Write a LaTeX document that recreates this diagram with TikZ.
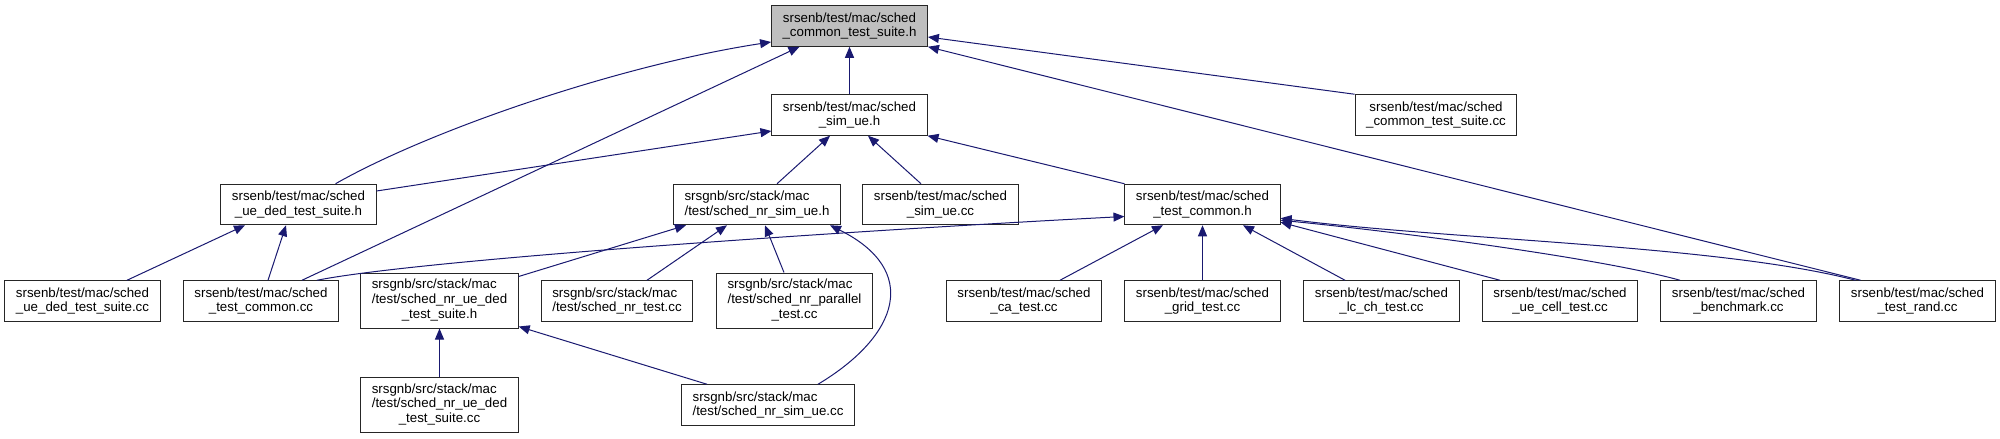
\documentclass[tikz,border=0pt]{standalone}
\usepackage{fontspec}
\setmainfont{Liberation Sans}
\usetikzlibrary{arrows.meta}
\definecolor{mblue}{HTML}{191970}
\newcommand{\threeline}[3]{\begin{tabular}{@{}l@{}}#1\\#2\\\multicolumn{1}{@{}c@{}}{#3}\end{tabular}}

\begin{document}
\begin{tikzpicture}[x=1pt, y=-1pt,
  box/.style={draw=black!85, line width=1pt, fill=white,
    font=\fontsize{13.3}{14.7}\selectfont, inner xsep=11pt,
    minimum height=40.5pt, align=center},
  tall/.style={box, minimum height=55pt},
  edge/.style={draw=mblue, line width=1pt, -{Triangle[length=11pt,width=9pt]}}]
  \useasboundingbox (0,0) rectangle (2000,439);

  % Top two rows
  \node[box, fill=black!25] (root) at (849.5,26) {srsenb/test/mac/sched\\\_common\_test\_suite.h};
  \node[box] (simh)    at (849.5,115) {srsenb/test/mac/sched\\\_sim\_ue.h};
  \node[box] (suitecc) at (1436,115)  {srsenb/test/mac/sched\\\_common\_test\_suite.cc};

  % Third row
  \node[box] (uedh)    at (298.5,204.5)  {srsenb/test/mac/sched\\\_ue\_ded\_test\_suite.h};
  \node[box, align=left] (nrsimh) at (757,204.5) {srsgnb/src/stack/mac\\/test/sched\_nr\_sim\_ue.h};
  \node[box] (simcc)   at (940.5,204.5)  {srsenb/test/mac/sched\\\_sim\_ue.cc};
  \node[box] (commonh) at (1202.5,204.5) {srsenb/test/mac/sched\\\_test\_common.h};

  % Fourth row
  \node[box] (uedcc)    at (82.5,301) {srsenb/test/mac/sched\\\_ue\_ded\_test\_suite.cc};
  \node[box] (commoncc) at (261,301)  {srsenb/test/mac/sched\\\_test\_common.cc};
  \node[tall] (nruedh)  at (439.5,300.5) {\threeline{srsgnb/src/stack/mac}{/test/sched\_nr\_ue\_ded}{\_test\_suite.h}};
  \node[box, align=left] (nrtestcc) at (617,301) {srsgnb/src/stack/mac\\/test/sched\_nr\_test.cc};
  \node[tall] (nrparcc) at (794.5,300.5) {\threeline{srsgnb/src/stack/mac}{/test/sched\_nr\_parallel}{\_test.cc}};
  \node[box] (cacc)     at (1024,301)   {srsenb/test/mac/sched\\\_ca\_test.cc};
  \node[box] (gridcc)   at (1202.5,301) {srsenb/test/mac/sched\\\_grid\_test.cc};
  \node[box] (lcchcc)   at (1381.5,301) {srsenb/test/mac/sched\\\_lc\_ch\_test.cc};
  \node[box] (uecellcc) at (1560,301)   {srsenb/test/mac/sched\\\_ue\_cell\_test.cc};
  \node[box] (benchcc)  at (1738.5,301) {srsenb/test/mac/sched\\\_benchmark.cc};
  \node[box] (randcc)   at (1917.5,301) {srsenb/test/mac/sched\\\_test\_rand.cc};

  % Bottom row
  \node[tall] (nruedcc) at (439.5,405) {\threeline{srsgnb/src/stack/mac}{/test/sched\_nr\_ue\_ded}{\_test\_suite.cc}};
  \node[box, align=left] (nrsimcc) at (768,405) {srsgnb/src/stack/mac\\/test/sched\_nr\_sim\_ue.cc};

  % Edges to the root header
  \draw[edge] (simh.north) -- (root.south);
  \draw[edge] (suitecc.north west) -- ([yshift=-11pt]root.east);
  \draw[edge] ([xshift=-57pt]randcc.north) -- (root.south east);
  \draw[edge] ([xshift=37pt]uedh.north) .. controls (430,130) and (620,65) .. ([yshift=-16pt]root.west);
  \draw[edge] ([xshift=41pt]commoncc.north) -- ([xshift=-50pt]root.south);

  % Edges to sched_sim_ue.h
  \draw[edge] ([yshift=13.5pt]uedh.east) -- ([yshift=-16pt]simh.west);
  \draw[edge] ([xshift=20pt]nrsimh.north) -- ([xshift=-19.5pt]simh.south);
  \draw[edge] ([xshift=-19.5pt]simcc.north) -- ([xshift=18.5pt]simh.south);
  \draw[edge] (commonh.north west) -- (simh.south east);

  % Edges to sched_ue_ded_test_suite.h
  \draw[edge] ([xshift=44.5pt]uedcc.north) -- ([xshift=-53.5pt]uedh.south);
  \draw[edge] ([xshift=7pt]commoncc.north) -- ([xshift=-12.5pt]uedh.south);

  % Edges to sched_nr_sim_ue.h
  \draw[edge] ([yshift=-4pt]nruedh.north east) -- ([xshift=-71pt]nrsimh.south);
  \draw[edge] ([xshift=30pt]nrtestcc.north) -- ([xshift=-30pt]nrsimh.south);
  \draw[edge] ([xshift=-10.5pt]nrparcc.north) -- ([xshift=8pt]nrsimh.south);
  \draw[edge] ([xshift=50pt]nrsimcc.north) .. controls (900,335) and (920,270) .. ([xshift=73pt]nrsimh.south);

  % Edges to sched_nr_ue_ded_test_suite.h
  \draw[edge] (nruedcc.north) -- (nruedh.south);
  \draw[edge] ([xshift=-61pt]nrsimcc.north) -- ([yshift=2pt]nruedh.south east);

  % Edges to sched_test_common.h
  \draw[edge] ([xshift=56pt]commoncc.north) .. controls (430,258) and (900,228) .. ([yshift=-12pt]commonh.west);
  \draw[edge] ([xshift=36pt]cacc.north) -- ([xshift=-39.5pt]commonh.south);
  \draw[edge] (gridcc.north) -- (commonh.south);
  \draw[edge] ([xshift=-36.5pt]lcchcc.north) -- ([xshift=40.5pt]commonh.south);
  \draw[edge] ([xshift=-60pt]uecellcc.north) -- ([yshift=3pt]commonh.south east);
  \draw[edge] ([xshift=-58.5pt]benchcc.north) .. controls (1600,258) and (1400,232) .. ([yshift=5pt]commonh.south east);
  \draw[edge] ([xshift=-62pt]randcc.north) .. controls (1720,245) and (1450,240) .. ([yshift=7pt]commonh.south east);

\end{tikzpicture}
\end{document}
